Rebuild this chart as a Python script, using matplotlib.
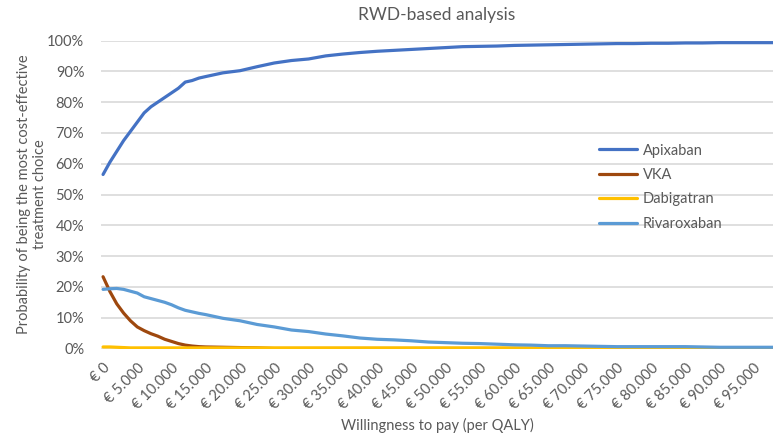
import matplotlib
matplotlib.use("Agg")
import matplotlib.pyplot as plt
from matplotlib.ticker import FuncFormatter, MultipleLocator

plt.rcParams['font.family'] = ['Lato', 'DejaVu Sans']

# Willingness to pay (EUR per QALY)
wtp = [0, 1000, 2000, 3000, 4000, 5000, 6000, 7000, 8000, 9000, 10000, 11000, 12000, 13000, 14000, 15000,
       17500, 20000, 22500, 25000, 27500, 30000, 32500, 35000, 37500, 40000, 42500, 45000, 47500, 50000,
       52500, 55000, 57500, 60000, 62500, 65000, 67500, 70000, 72500, 75000, 77500, 80000, 82500, 85000,
       87500, 90000, 92500, 95000, 97500, 100000]

# Probability (%) of being the most cost-effective choice
apixaban = [56.5, 60.5, 64.0, 67.5, 70.5, 73.5, 76.5, 78.5, 80.0, 81.5, 83.0, 84.5, 86.5, 87.0, 87.8, 88.3,
            89.5, 90.2, 91.5, 92.7, 93.5, 94.0, 95.0, 95.6, 96.1, 96.5, 96.8, 97.1, 97.4, 97.7,
            98.0, 98.1, 98.2, 98.4, 98.5, 98.6, 98.7, 98.8, 98.9, 99.0, 99.0, 99.1, 99.1, 99.2,
            99.2, 99.3, 99.3, 99.3, 99.3, 99.3]
vka = [23.3, 18.5, 14.5, 11.5, 9.0, 7.0, 5.8, 4.8, 4.0, 3.0, 2.3, 1.6, 1.1, 0.8, 0.6, 0.5,
       0.4, 0.3, 0.2, 0.0, 0.0, 0.0, 0.0, 0.0, 0.0, 0.0, 0.0, 0.0, 0.0, 0.0,
       0.0, 0.0, 0.0, 0.0, 0.0, 0.0, 0.0, 0.0, 0.0, 0.0, 0.0, 0.0, 0.0, 0.0,
       0.0, 0.0, 0.0, 0.0, 0.0, 0.0]
dabigatran = [0.5, 0.5, 0.4, 0.3, 0.2, 0.2, 0.2, 0.2, 0.2, 0.2, 0.2, 0.2, 0.2, 0.2, 0.2, 0.2,
              0.2, 0.2, 0.2, 0.2, 0.2, 0.2, 0.2, 0.2, 0.2, 0.2, 0.2, 0.2, 0.2, 0.2,
              0.2, 0.2, 0.2, 0.2, 0.2, 0.2, 0.2, 0.2, 0.2, 0.2, 0.2, 0.2, 0.2, 0.2,
              0.2, 0.2, 0.2, 0.2, 0.2, 0.2]
rivaroxaban = [19.2, 19.4, 19.5, 19.2, 18.6, 18.0, 16.8, 16.2, 15.6, 15.0, 14.2, 13.2, 12.4, 11.9, 11.4, 11.0,
               9.8, 9.0, 7.8, 7.0, 6.0, 5.5, 4.7, 4.1, 3.4, 3.0, 2.8, 2.5, 2.1, 1.9,
               1.7, 1.6, 1.4, 1.2, 1.1, 0.9, 0.9, 0.8, 0.7, 0.6, 0.6, 0.6, 0.6, 0.6,
               0.5, 0.4, 0.4, 0.4, 0.4, 0.4]

series = [("Apixaban", apixaban, "#4472C4"),
          ("VKA", vka, "#9E480E"),
          ("Dabigatran", dabigatran, "#FFC000"),
          ("Rivaroxaban", rivaroxaban, "#5B9BD5")]

grey = "#595959"

fig = plt.figure(figsize=(7.73, 4.36), dpi=100)
ax = fig.add_axes([101 / 773, 87.5 / 436, 672 / 773, 308 / 436])

for name, vals, col in series:
    ax.plot(wtp, vals, color=col, lw=2.3, label=name, solid_capstyle="round")

ax.set_xlim(-300, 97800)
ax.set_ylim(0, 100)
ax.yaxis.set_major_locator(MultipleLocator(10))
ax.yaxis.set_major_formatter(FuncFormatter(lambda v, p: f"{v:.0f}%"))
ax.xaxis.set_major_locator(MultipleLocator(5000))
ax.xaxis.set_major_formatter(FuncFormatter(
    lambda v, p: "€ " + f"{v:,.0f}".replace(",", ".")))

ax.grid(axis="y", color="#D9D9D9", lw=1.2)
ax.set_axisbelow(True)
for s in ax.spines.values():
    s.set_visible(False)
ax.tick_params(length=0, colors=grey, labelsize=10.5)
ax.tick_params(axis="y", pad=12)
ax.tick_params(axis="x", pad=9)
plt.setp(ax.get_xticklabels(), rotation=45, ha="right", rotation_mode="anchor")

ax.set_title("RWD-based analysis", color=grey, fontsize=12.5, pad=15)
ax.set_xlabel("Willingness to pay (per QALY)", color=grey, fontsize=10.5, labelpad=4)
ax.set_ylabel("Probability of being the most cost-effective\ntreatment choice", color=grey,
              fontsize=10.5, labelpad=0)

ax.legend(loc="center left", bbox_to_anchor=(0.73, 0.524), frameon=False, borderpad=0,
          handlelength=2.6, handletextpad=0.4, labelspacing=0.71, fontsize=10.5,
          labelcolor=grey)

fig.savefig("out.png", dpi=100)
